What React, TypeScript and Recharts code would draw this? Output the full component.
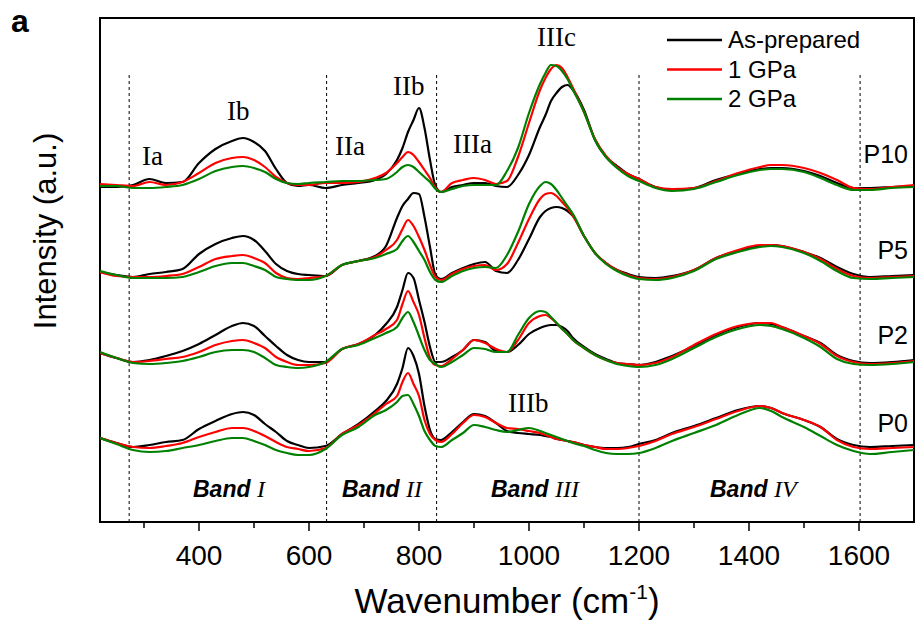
import React from 'react';
import { LineChart, Line, XAxis, YAxis, ReferenceLine, ReferenceArea } from 'recharts';

// Wavenumber grid (cm^-1)
const wavenumbers = [
  220, 250, 280, 310, 340, 370, 400, 430, 460, 480,
  500, 520, 540, 560, 580, 600, 630, 660, 690, 720,
  740, 760, 770, 780, 790, 800, 810, 820, 830, 840,
  860, 880, 900, 920, 940, 960, 980, 1000, 1020, 1030,
  1040, 1050, 1060, 1070, 1080, 1100, 1120, 1140, 1160, 1180,
  1200, 1230, 1260, 1300, 1340, 1380, 1420, 1440, 1460, 1500,
  1530, 1560, 1590, 1620, 1660, 1700,
];

// Samples (stacked with vertical offsets, a.u.)
const samples = ['P10', 'P5', 'P2', 'P0'];
const sampleOffsets = [336, 248, 162, 78];

// Conditions
const conditions = ['As-prepared', '1 GPa', '2 GPa'];
const conditionColors = ['#000000', '#ff0000', '#008000'];

// Relative intensities (a.u.)
const p10AsPrepared = [
  -1, -1, 1, 7, 3, 4, 23, 37, 45, 48,
  44, 35, 17, 3, 0, 1, -2, 1, 3, 6,
  12, 26, 38, 54, 66, 78, 58, 26, 0, -6,
  -1, 1, 3, 3, 0, -1, 11, 31, 59, 71,
  85, 93, 99, 101, 96, 76, 46, 29, 20, 12,
  7, -1, -4, -2, 6, 12, 17, 18, 18, 15,
  10, 3, -2, -2, -1, 0,
];
const p10Gpa1 = [
  2, 1, 0, 4, 1, 4, 13, 23, 28, 29,
  26, 19, 9, 3, 1, 1, 3, 3, 4, 8,
  13, 23, 29, 34, 31, 24, 16, 8, -2, -6,
  3, 6, 8, 6, 2, 5, 29, 63, 96, 108,
  117, 121, 118, 109, 98, 74, 47, 30, 19, 12,
  7, -1, -3, -2, 5, 13, 19, 21, 21, 18,
  13, 6, -2, -3, -1, 1,
];
const p10Gpa2 = [
  0, 0, -2, -2, -1, 1, 7, 15, 19, 20,
  18, 14, 7, 3, 2, 3, 4, 5, 5, 6,
  7, 14, 19, 21, 19, 14, 9, 4, -3, -6,
  -3, 0, 1, 1, 1, 15, 38, 73, 102, 113,
  121, 120, 115, 107, 96, 74, 46, 29, 18, 10,
  5, -2, -5, -3, 4, 11, 16, 17, 17, 14,
  8, 1, -4, -4, -2, -1,
];

const p5AsPrepared = [
  2, -1, -3, 0, 2, 5, 20, 30, 36, 38,
  34, 23, 10, 3, 0, -1, -2, 9, 13, 18,
  28, 56, 68, 75, 81, 80, 57, 27, -1, -5,
  1, 6, 10, 12, 3, 1, 14, 35, 57, 63,
  66, 67, 66, 63, 58, 38, 21, 11, 4, 0,
  -3, -4, -2, 4, 16, 23, 28, 29, 28, 22,
  16, 7, 0, -3, -2, -1,
];
const p5Gpa1 = [
  2, -2, -3, -3, -2, 0, 7, 15, 18, 19,
  16, 11, 1, -4, -5, -4, -2, 9, 13, 17,
  24, 34, 45, 54, 48, 37, 24, 9, -3, -6,
  0, 5, 8, 9, 4, 10, 31, 55, 75, 80,
  81, 78, 72, 66, 58, 38, 21, 11, 4, -1,
  -4, -5, -3, 4, 16, 24, 29, 29, 28, 22,
  15, 5, -2, -4, -3, -2,
];
const p5Gpa2 = [
  3, -1, -4, -4, -4, -3, 2, 8, 11, 11,
  8, 4, -3, -5, -6, -6, -2, 9, 13, 16,
  20, 25, 33, 38, 32, 23, 14, 2, -6, -8,
  -2, 3, 6, 7, 6, 19, 42, 70, 88, 92,
  90, 84, 76, 68, 60, 38, 21, 10, 3, -2,
  -5, -6, -4, 3, 15, 22, 27, 28, 27, 21,
  13, 3, -4, -5, -4, -3,
];

const p2AsPrepared = [
  7, 2, -2, 0, 4, 9, 16, 25, 34, 37,
  34, 24, 14, 5, 0, -2, -2, 11, 16, 25,
  36, 53, 70, 87, 82, 60, 38, 13, -2, -2,
  3, 10, 20, 18, 9, 8, 15, 26, 32, 34,
  35, 35, 33, 29, 22, 13, 6, 1, -3, -4,
  -5, -2, 4, 14, 25, 33, 37, 36, 33, 24,
  17, 5, -1, -3, -2, 0,
];
const p2Gpa1 = [
  7, 2, -2, -1, 1, 3, 8, 15, 19, 20,
  17, 12, 3, -2, -5, -5, -3, 11, 16, 25,
  31, 40, 56, 69, 58, 45, 22, 2, -5, -6,
  1, 10, 20, 17, 11, 8, 20, 37, 44, 45,
  42, 37, 31, 26, 20, 12, 5, 0, -3, -4,
  -5, -3, 3, 15, 26, 34, 37, 37, 33, 24,
  16, 4, -2, -4, -3, -1,
];
const p2Gpa2 = [
  8, 2, -3, -4, -3, -1, 3, 8, 10, 10,
  8, 2, -5, -7, -8, -7, -2, 11, 15, 22,
  27, 33, 42, 48, 38, 24, 10, 0, -4, -7,
  -2, 5, 12, 11, 8, 8, 25, 42, 49, 48,
  43, 37, 31, 26, 20, 12, 5, 0, -4, -6,
  -7, -5, 1, 12, 23, 31, 35, 34, 31, 22,
  13, 1, -4, -5, -4, -2,
];

const p0AsPrepared = [
  6, 1, -3, -1, 2, 4, 15, 23, 30, 32,
  29, 20, 12, 3, -1, -4, -2, 10, 20, 33,
  43, 60, 76, 96, 88, 70, 38, 14, 5, 4,
  12, 22, 30, 28, 21, 13, 11, 10, 9, 8,
  7, 5, 4, 3, 2, -1, -3, -4, -4, -3,
  0, 4, 11, 18, 26, 34, 38, 36, 31, 24,
  17, 5, -1, -3, -2, -1,
];
const p0Gpa1 = [
  6, 1, -3, -4, -2, 1, 7, 12, 16, 16,
  13, 8, 2, -3, -5, -7, -4, 10, 19, 31,
  40, 48, 62, 71, 60, 48, 24, 10, 4, 2,
  10, 21, 29, 27, 21, 16, 15, 13, 11, 9,
  7, 5, 4, 3, 2, -1, -3, -5, -5, -4,
  -2, 3, 10, 17, 25, 33, 38, 36, 31, 24,
  17, 4, -3, -5, -4, -3,
];
const p0Gpa2 = [
  6, 0, -6, -8, -7, -4, -1, 3, 6, 6,
  3, -1, -6, -9, -11, -11, -5, 9, 17, 29,
  34, 42, 48, 49, 40, 28, 13, 4, -2, -3,
  4, 11, 19, 17, 14, 12, 14, 16, 13, 11,
  9, 7, 5, 3, 1, -2, -6, -9, -10, -10,
  -9, -4, 3, 11, 19, 29, 36, 33, 27, 17,
  8, -1, -7, -10, -8, -6,
];

// Axis ticks and band boundaries
const majorTicks = [400, 600, 800, 1000, 1200, 1400, 1600];
const minorTicks = [300, 500, 700, 900, 1100, 1300, 1500];
const bandBoundaries = [273, 632, 832, 1200, 1602];

const seriesBySample = [
  [p10AsPrepared, p10Gpa1, p10Gpa2],
  [p5AsPrepared, p5Gpa1, p5Gpa2],
  [p2AsPrepared, p2Gpa1, p2Gpa2],
  [p0AsPrepared, p0Gpa1, p0Gpa2],
];

const chartData = wavenumbers.map((x, i) => {
  const row: Record<string, number> = { x };
  seriesBySample.forEach((group, si) => {
    group.forEach((vals, ci) => {
      row[`s${si}_c${ci}`] = sampleOffsets[si] + vals[i];
    });
  });
  return row;
});

const allTicks = [...majorTicks, ...minorTicks].sort((a, b) => a - b);

const SANS = 'Arial, "Liberation Sans", sans-serif';
const SERIF = '"Times New Roman", "Liberation Serif", serif';

const AxisTick = (props: any) => {
  const { x, y, payload } = props;
  const major = majorTicks.includes(payload.value);
  return (
    <g>
      <line x1={x} x2={x} y1={y} y2={y + (major ? 9 : 6)} stroke="#000" strokeWidth={1.5} />
      {major && (
        <text x={x} y={y + 43} textAnchor="middle" fontSize={28} fontFamily={SANS} fill="#000">
          {payload.value}
        </text>
      )}
    </g>
  );
};

const romanLabels = [
  { t: 'Ia', x: 142, y: 165 },
  { t: 'Ib', x: 227, y: 120 },
  { t: 'IIa', x: 335, y: 155 },
  { t: 'IIb', x: 393, y: 95 },
  { t: 'IIIa', x: 453, y: 153 },
  { t: 'IIIc', x: 537, y: 46 },
  { t: 'IIIb', x: 508, y: 412 },
];
const sampleLabelY = [163, 259, 344, 432];
const bandLabels = [
  { n: 'I', x: 193 },
  { n: 'II', x: 342 },
  { n: 'III', x: 491 },
  { n: 'IV', x: 710 },
];

export default function App() {
  const lines: React.ReactNode[] = [];
  conditions.forEach((c, ci) => {
    samples.forEach((s, si) => {
      lines.push(
        <Line
          key={`${s}-${c}`}
          type="monotone"
          dataKey={`s${si}_c${ci}`}
          name={`${s} ${c}`}
          stroke={conditionColors[ci]}
          strokeWidth={2.2}
          dot={false}
          activeDot={false}
          isAnimationActive={false}
        />
      );
    });
  });

  return (
    <div style={{ position: 'absolute', left: 0, top: 0, width: 915, height: 625, background: '#fff' }}>
      <LineChart
        width={915}
        height={625}
        data={chartData}
        margin={{ top: 18, right: 1, bottom: 0, left: 100 }}
      >
        <XAxis
          dataKey="x"
          type="number"
          domain={[220, 1700]}
          ticks={allTicks}
          interval={0}
          allowDataOverflow
          height={103}
          tickSize={0}
          tickMargin={0}
          tickLine={false}
          tick={<AxisTick />}
          axisLine={{ stroke: '#000', strokeWidth: 2 }}
        />
        <YAxis type="number" domain={[0, 504]} hide allowDataOverflow />
        <ReferenceArea x1={220} x2={1700} y1={0} y2={504} fill="none" stroke="#000" strokeWidth={2} />
        {bandBoundaries.map((b) => (
          <ReferenceLine
            key={b}
            segment={[{ x: b, y: 0 }, { x: b, y: 450 }]}
            stroke="#000"
            strokeWidth={1}
            strokeDasharray="3 3"
          />
        ))}
        {lines}
      </LineChart>
      <svg
        width={915}
        height={625}
        style={{ position: 'absolute', left: 0, top: 0, pointerEvents: 'none' }}
      >
        <text x={11} y={32} fontSize={32} fontWeight="bold" fontFamily={SANS}>a</text>
        <text
          x={56}
          y={231}
          transform="rotate(-90 56 231)"
          textAnchor="middle"
          fontSize={31}
          fontFamily={SANS}
        >
          Intensity (a.u.)
        </text>
        <text x={507} y={613} textAnchor="middle" fontSize={35} fontFamily={SANS}>
          Wavenumber (cm<tspan dy={-14} fontSize={21}>-1</tspan><tspan dy={14}>)</tspan>
        </text>
        {conditions.map((c, i) => (
          <g key={c}>
            <line x1={667} x2={722} y1={40 + i * 29.5} y2={40 + i * 29.5} stroke={conditionColors[i]} strokeWidth={2.5} />
            <text x={728} y={48 + i * 29.5} fontSize={24} fontFamily={SANS}>{c}</text>
          </g>
        ))}
        {samples.map((s, i) => (
          <text key={s} x={908} y={sampleLabelY[i]} textAnchor="end" fontSize={25} fontFamily={SANS}>{s}</text>
        ))}
        {romanLabels.map((r) => (
          <text key={r.t} x={r.x} y={r.y} fontSize={27} fontFamily={SERIF}>{r.t}</text>
        ))}
        {bandLabels.map((b) => (
          <text key={b.n} x={b.x} y={497} fontSize={23} fontFamily={SANS} fontWeight="bold" fontStyle="italic">
            Band <tspan fontFamily={SERIF} fontWeight="normal" fontSize={24}>{b.n}</tspan>
          </text>
        ))}
      </svg>
    </div>
  );
}
